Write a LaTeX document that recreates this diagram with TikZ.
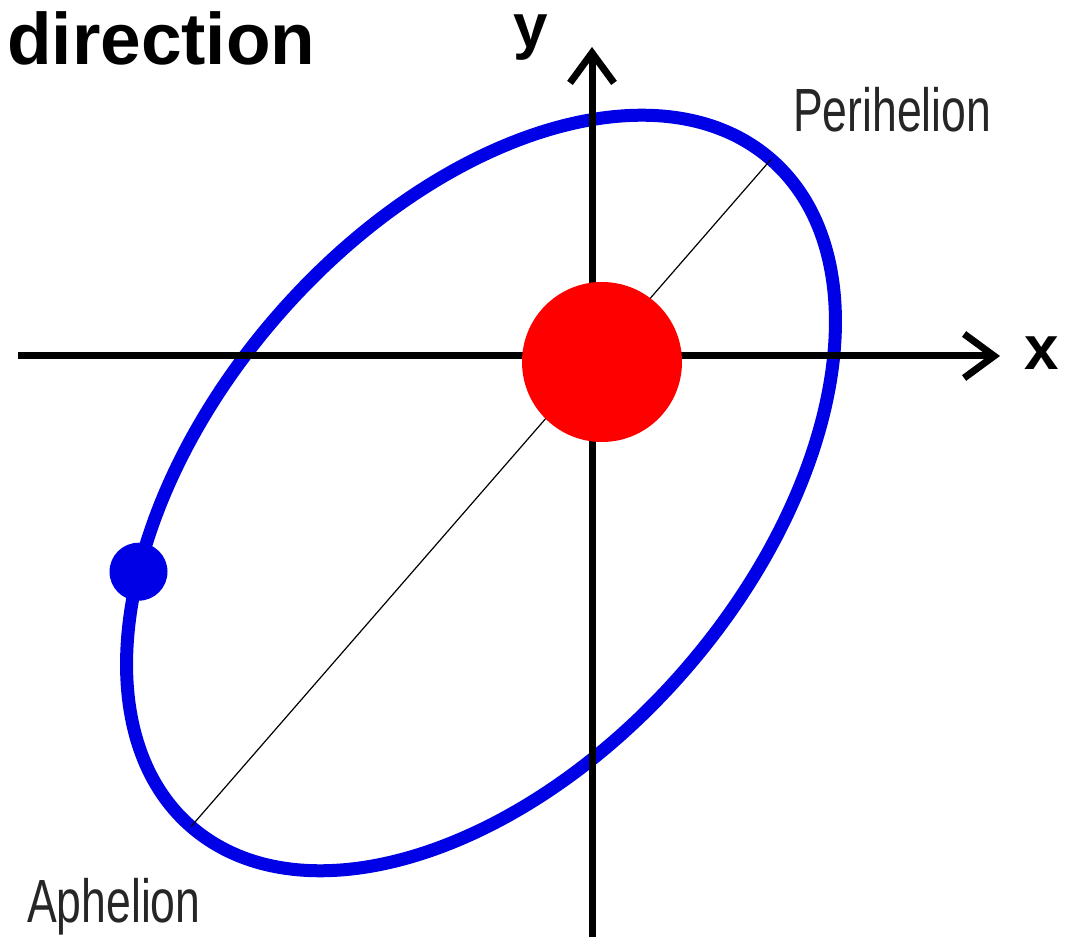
\documentclass[tikz,border=0pt]{standalone}
\usepackage{fontspec}
\setmainfont{Liberation Sans}
\usepackage{graphicx}
\usetikzlibrary{arrows.meta, positioning}
\definecolor{orbitblue}{RGB}{0,0,230}
\definecolor{sunred}{RGB}{255,0,0}
\newcommand{\slimtext}[1]{\scalebox{0.73}[1]{#1}}
\tikzset{
	axisline/.style={line width=7pt, -{Straight Barb[length=30pt,width=44pt,line width=7pt]}}
}
\tikzset{
	orbit/.style={draw=orbitblue, line width=13pt}
}
\tikzset{
	bodylabel/.style={font=\fontsize{61}{61}\selectfont\color{black!85}, inner sep=0pt},
	axislabel/.style={font=\fontsize{62}{62}\selectfont\bfseries, inner sep=0pt}
}

\begin{document}
\begin{tikzpicture}[x=1pt, y=1pt]
      \useasboundingbox (0,0) rectangle (1070,937);
      \node[font=\fontsize{73}{80}\selectfont\bfseries, inner sep=0pt, anchor=base west] (title) at (7,872) {direction};
      % tilted orbit
      \begin{scope}[shift={(481,444)}, rotate=49]
        \draw[orbit] (0,0) ellipse [x radius=442, y radius=270];
        \coordinate (peri) at (0:442);
        \coordinate (aph) at (180:442);
        \coordinate (pos) at (130:442 and 270);
      \end{scope}
      \draw[line width=1.2pt] (aph) -- (peri);
      % axes
      \coordinate (xstart) at (18,581);
      \coordinate (xend) at (1000,581);
      \coordinate (ystart) at (592,0);
      \coordinate (yend) at (592,890);
      \draw[axisline] (xstart) -- (xend);
      \draw[axisline] (ystart) -- (yend);
      \node[axislabel, anchor=base] (xlab) at (1042,567) {x};
      \node[axislabel, anchor=base] (ylab) at (531,889) {y};
      \node[circle, fill=sunred, minimum size=160pt, inner sep=0pt] (sun) at (602,575) {};
      \node[circle, fill=orbitblue, minimum size=58pt, inner sep=0pt] (planet) at (pos) {};
      \node[bodylabel, anchor=base west] (perilab) at (793,805) {\slimtext{Perihelion}};
      \node[bodylabel, anchor=base west] (aphlab) at (27,15) {\slimtext{Aphelion}};
    \end{tikzpicture}
\end{document}
